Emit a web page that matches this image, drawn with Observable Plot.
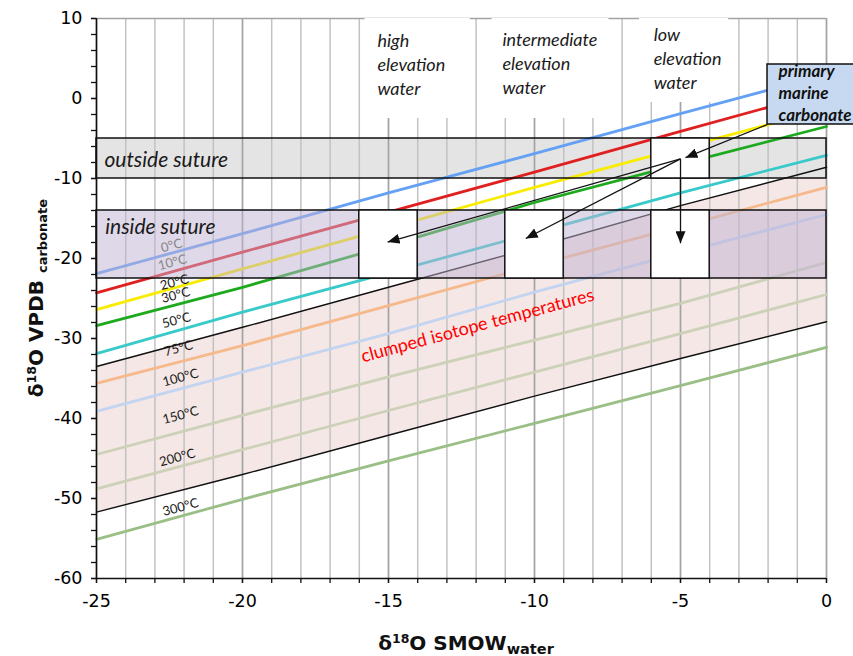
<!DOCTYPE html>
<html>
<head>
<meta charset="utf-8">
<script src="https://cdn.jsdelivr.net/npm/d3@7"></script>
<script src="https://cdn.jsdelivr.net/npm/@observablehq/plot@0.6"></script>
<style>
  body { margin: 0; background: #fff; }
  #chart svg { display: block; }
</style>
</head>
<body>
<div id="chart"></div>
<script>
// δ18O of water (SMOW) at which each fractionation curve is sampled
const waterX = [-25, -20, -15, -10, -5, 0];

// δ18O of carbonate (VPDB) in equilibrium with water, per temperature
const temperatures = ["0°C", "10°C", "20°C", "30°C", "50°C", "75°C", "100°C", "150°C", "200°C", "300°C"];
const carb0   = [-21.9, -16.9, -11.8,  -6.9,  -1.9,   3.0];
const carb10  = [-24.3, -19.2, -14.2,  -9.2,  -4.1,   0.9];
const carb20  = [-26.4, -21.3, -16.2, -11.1,  -6.2,  -1.3];
const carb30  = [-28.4, -23.6, -18.4, -13.0,  -8.2,  -3.5];
const carb50  = [-31.9, -26.7, -21.8, -16.8, -11.8,  -7.1];
const carb75  = [-35.6, -30.9, -25.9, -20.9, -16.0, -11.1];
const carb100 = [-39.1, -34.2, -29.4, -24.2, -19.3, -14.5];
const carb150 = [-44.5, -39.6, -34.8, -30.2, -25.6, -20.5];
const carb200 = [-48.8, -43.9, -39.0, -34.2, -29.4, -24.5];
const carb300 = [-55.1, -50.1, -45.3, -40.6, -35.9, -31.1];

// Bounds of the clumped isotope temperature field
const clumpedUpper = [-33.5, -28.6, -23.6, -18.6, -13.4,  -8.6];
const clumpedLower = [-51.7, -47.0, -42.1, -37.2, -32.5, -27.9];

// Measured carbonate ranges (VPDB)
const outsideSuture = [-5, -10];
const insideSuture = [-14, -22.5];

// Water source windows (SMOW ranges)
const waterSources = ["high elevation water", "intermediate elevation water", "low elevation water"];
const waterRanges = [[-16, -14], [-11, -9], [-6, -4]];

// Primary marine carbonate window
const marineCarbonate = { x: [-2.02, 1.5], y: [-3.25, 4.25] };

// Axis ticks
const xMajorTicks = [-25, -20, -15, -10, -5, 0];
const yMajorTicks = [-60, -50, -40, -30, -20, -10, 0, 10];

// ---- styling ----
const curveColors = ["#64a0f4", "#e02020", "#f8ec00", "#1eaa1e", "#38cac9", "#f6b98c", "#c3d4f1", "#ccd1b8", "#ccd1b8", "#9abf86"];
const curveSeries = [carb0, carb10, carb20, carb30, carb50, carb75, carb100, carb150, carb200, carb300];

const curveRows = temperatures.flatMap((t, i) =>
  waterX.map((x, j) => ({ temp: t, x, y: curveSeries[i][j] })));
const clumpedRows = waterX.map((x, j) => ({ x, upper: clumpedUpper[j], lower: clumpedLower[j] }));

const xMinor = d3.range(-25, 1, 1);
const yMinor = d3.range(-60, 11, 2);

// temperature labels along the left edge
const tempLabelAt = [
  [-22.43, -18.4], [-22.40, -20.5], [-22.33, -23.0], [-22.29, -24.6], [-22.26, -27.75],
  [-22.19, -31.25], [-22.12, -34.9], [-22.12, -39.6], [-22.23, -44.9], [-22.12, -51.1]
];
const tempLabels = temperatures.map((t, i) => ({ text: t, x: tempLabelAt[i][0], y: tempLabelAt[i][1], faded: i < 2 }));

// inside/outside suture sample windows
const insideBoxes = waterRanges.map(([a, b]) => ({ x1: a, x2: b, y1: insideSuture[0], y2: insideSuture[1] }));
const outsideBox = [{ x1: waterRanges[2][0], x2: waterRanges[2][1], y1: outsideSuture[0], y2: outsideSuture[1] }];

// label panels at the top
const topPanels = [
  { x1: -15.8, x2: -12.2, y1: -2.5, y2: 10 },
  { x1: -11.45, x2: -7.45, y1: -2.5, y2: 10 },
  { x1: -6.4, x2: -3.35, y1: -0.5, y2: 10 }
];
const topLabels = [
  { text: "high\nelevation\nwater", x: -15.38, y: 4.4 },
  { text: "intermediate\nelevation\nwater", x: -11.1, y: 4.5 },
  { text: "low\nelevation\nwater", x: -5.92, y: 5.1 }
];

// arrows: marine carbonate → low elevation water → the three inside-suture windows
const arrowRows = [
  { x1: -2.02, y1: -3.25, x2: -4.83, y2: -7.4 },
  { x1: -5.0, y1: -7.55, x2: -15.03, y2: -17.95 },
  { x1: -5.0, y1: -7.55, x2: -10.3, y2: -17.5 },
  { x1: -5.0, y1: -7.55, x2: -5.0, y2: -18.1 }
];

const calibri = "Lato, 'Open Sans', sans-serif";

const svg = Plot.plot({
  width: 853,
  height: 656,
  marginLeft: 96,
  marginRight: 27,
  marginTop: 18,
  marginBottom: 78,
  style: { fontFamily: "'DejaVu Sans', Verdana, sans-serif", background: "#fff" },
  x: { domain: [-25, 0], axis: null },
  y: { domain: [-60, 10], axis: null },
  marks: [
    // clumped isotope field
    Plot.areaY(clumpedRows, { x: "x", y1: "lower", y2: "upper", fill: "#f4e7e5" }),
    // outside suture band
    Plot.rect([0], { x1: -25, x2: 0, y1: outsideSuture[0], y2: outsideSuture[1], fill: "#e4e4e4" }),
    // grid
    Plot.gridX(xMinor, { stroke: "#c2c2c2", strokeOpacity: 1, strokeWidth: 1.5 }),
    Plot.gridX(xMajorTicks, { stroke: "#a3a3a3", strokeOpacity: 1, strokeWidth: 1.5 }),
    Plot.ruleY([10], { stroke: "#a3a3a3", strokeWidth: 1.5 }),
    Plot.rect(topPanels, { x1: "x1", x2: "x2", y1: "y1", y2: "y2", fill: "white" }),
    // equilibrium curves
    Plot.line(curveRows, { x: "x", y: "y", z: "temp", stroke: (d) => curveColors[temperatures.indexOf(d.temp)], strokeWidth: 2.8, curve: "linear" }),
    // clumped field bounds
    Plot.line(clumpedRows, { x: "x", y: "upper", stroke: "#111", strokeWidth: 1.4 }),
    Plot.line(clumpedRows, { x: "x", y: "lower", stroke: "#111", strokeWidth: 1.4 }),
    // inside suture band (translucent)
    Plot.rect([0], { x1: -25, x2: 0, y1: insideSuture[0], y2: insideSuture[1], fill: "#bfb1d1", fillOpacity: 0.5, stroke: "#111", strokeWidth: 1.5 }),
    Plot.rect([0], { x1: -25, x2: 0, y1: outsideSuture[0], y2: outsideSuture[1], fill: "none", stroke: "#111", strokeWidth: 1.5 }),
    // water source windows
    Plot.rect(insideBoxes, { x1: "x1", x2: "x2", y1: "y1", y2: "y2", fill: "white", stroke: "#111", strokeWidth: 1.5 }),
    Plot.rect(outsideBox, { x1: "x1", x2: "x2", y1: "y1", y2: "y2", fill: "white", stroke: "#111", strokeWidth: 1.5 }),
    // primary marine carbonate
    Plot.rect([marineCarbonate], { x1: (d) => d.x[0], x2: (d) => d.x[1], y1: (d) => d.y[0], y2: (d) => d.y[1], fill: "#c6d9f1", stroke: "#111", strokeWidth: 1.5, clip: false }),
    // arrows
    Plot.link(arrowRows, { x1: "x1", y1: "y1", x2: "x2", y2: "y2", stroke: "#111", strokeWidth: 1.3 }),
    // frame lines
    Plot.ruleX([-25], { stroke: "#111", strokeWidth: 1.5 }),
    Plot.ruleY([-60], { stroke: "#111", strokeWidth: 1.5 }),
    // axes
    Plot.axisY(yMinor, { tickSize: 5, tickFormat: () => "", stroke: "#111", strokeWidth: 1.3 }),
    Plot.axisY(yMajorTicks, { tickSize: 5, tickPadding: 9, fontSize: 17.5, stroke: "#111", strokeWidth: 1.3, tickFormat: (d) => String(d) }),
    Plot.axisX(xMinor, { tickSize: 5, tickFormat: () => "", stroke: "#111", strokeWidth: 1.3 }),
    Plot.axisX(xMajorTicks, { tickSize: 5, tickPadding: 11, fontSize: 17.5, stroke: "#111", strokeWidth: 1.3, tickFormat: (d) => String(d) }),
    // text
    Plot.text(tempLabels, { x: "x", y: "y", text: "text", rotate: -15, fontFamily: calibri, fontSize: 13, fill: (d) => d.faded ? "#868686" : "#1a1a1a" }),
    Plot.text([{ text: "outside suture", x: -24.73, y: -7.75 }, { text: "inside suture", x: -24.7, y: -16.1 }],
      { x: "x", y: "y", text: "text", textAnchor: "start", fontFamily: calibri, fontStyle: "italic", fontSize: 21, fill: "#1a1a1a" }),
    Plot.text(topLabels, { x: "x", y: "y", text: "text", textAnchor: "start", lineAnchor: "middle", lineHeight: 1.33, fontFamily: calibri, fontStyle: "italic", fontSize: 18, fill: "#1a1a1a" }),
    Plot.text([{ text: "primary\nmarine\ncarbonate", x: -1.64, y: 0.8 }],
      { x: "x", y: "y", text: "text", textAnchor: "start", lineAnchor: "middle", lineHeight: 1.27, fontFamily: calibri, fontStyle: "italic", fontWeight: "bold", fontSize: 17, fill: "#111", clip: false }),
    Plot.text([{ text: "clumped isotope temperatures", x: -11.95, y: -28.4 }],
      { x: "x", y: "y", text: "text", rotate: -15, fontFamily: calibri, fontSize: 18, fill: "#ff0000" })
  ]
});

const root = d3.select(svg);

// filled arrowheads for the link mark
const defs = root.insert("defs", ":first-child");
defs.append("marker")
  .attr("id", "filled-head")
  .attr("viewBox", "0 0 12 10")
  .attr("refX", 12).attr("refY", 5)
  .attr("markerWidth", 12).attr("markerHeight", 10)
  .attr("markerUnits", "userSpaceOnUse")
  .attr("orient", "auto")
  .append("path").attr("d", "M0,0L12,5L0,10Z").attr("fill", "#111");
root.selectAll('g[aria-label="link"] path').attr("marker-end", "url(#filled-head)");

// axis titles with super/subscripts
const xTitle = root.append("text")
  .attr("x", 466).attr("y", 650)
  .attr("text-anchor", "middle")
  .attr("font-family", "'DejaVu Sans', Verdana, sans-serif")
  .attr("font-weight", "bold")
  .attr("font-size", 20)
  .attr("fill", "#111");
xTitle.append("tspan").text("δ");
xTitle.append("tspan").attr("font-size", 12.5).attr("dy", -7).text("18");
xTitle.append("tspan").attr("dy", 7).text("O SMOW");
xTitle.append("tspan").attr("font-size", 14.5).attr("dy", 4).text("water");

const yTitle = root.append("text")
  .attr("transform", "translate(43,298) rotate(-90)")
  .attr("text-anchor", "middle")
  .attr("font-family", "'DejaVu Sans', Verdana, sans-serif")
  .attr("font-weight", "bold")
  .attr("font-size", 20)
  .attr("fill", "#111");
yTitle.append("tspan").text("δ");
yTitle.append("tspan").attr("font-size", 12.5).attr("dy", -7).text("18");
yTitle.append("tspan").attr("dy", 7).text("O VPDB ");
yTitle.append("tspan").attr("font-size", 13).attr("dy", 4).text("carbonate");

document.getElementById("chart").appendChild(svg);
</script>
</body>
</html>
